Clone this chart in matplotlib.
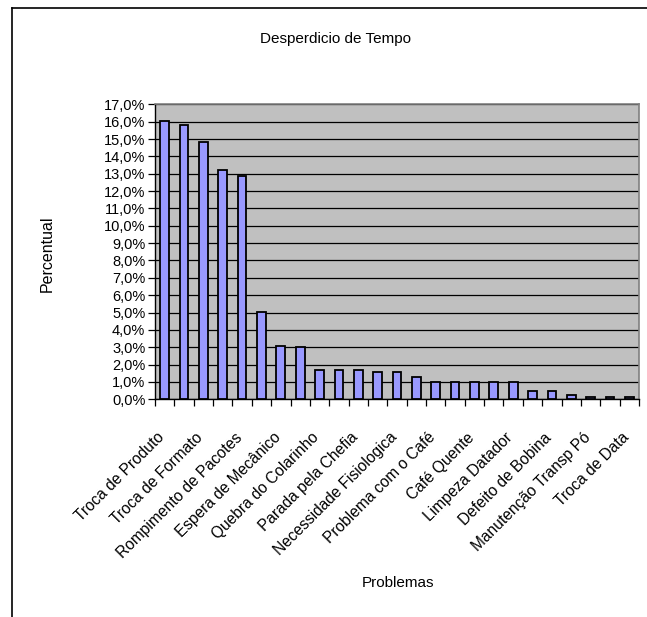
import matplotlib
matplotlib.use("Agg")
import matplotlib.pyplot as plt
import matplotlib.transforms as mtransforms
from matplotlib.lines import Line2D
from matplotlib.ticker import FuncFormatter, MultipleLocator
import numpy as np

plt.rcParams['font.family'] = ['Liberation Sans', 'DejaVu Sans']

title = "Desperdicio de Tempo"
x_label = "Problemas"
y_label = "Percentual"

# 25 problem categories; only every other one carries a visible label
values = [16.05, 15.8, 14.8, 13.2, 12.85, 5.02, 3.1, 3.0, 1.7, 1.7, 1.7,
          1.57, 1.57, 1.3, 1.02, 1.02, 1.02, 1.02, 1.02, 0.5, 0.5, 0.27,
          0.12, 0.12, 0.12]
tick_labels = ["Troca de Produto", "Troca de Formato", "Rompimento de Pacotes",
               "Espera de Mecânico", "Quebra do Colarinho", "Parada pela Chefia",
               "Necessidade Fisiologica", "Problema com o Café", "Café Quente",
               "Limpeza Datador", "Defeito de Bobina", "Manutenção Transp Pó",
               "Troca de Data"]

fig = plt.figure(figsize=(6.47, 6.17), dpi=100)
ax = fig.add_axes([155/647, 1-399.3/617, (639-155)/647, (399.3-104.3)/617])

n = len(values)
x = np.arange(n)
ax.set_facecolor('#C0C0C0')
ax.bar(x, values, width=0.45, color='#9999FF', edgecolor='black', linewidth=1.3, zorder=3)

ax.set_xlim(-0.5, n - 0.5)
ax.set_ylim(0, 17)
ax.yaxis.set_major_locator(MultipleLocator(1))
ax.yaxis.set_major_formatter(FuncFormatter(lambda v, p: f"{v:.1f}%".replace('.', ',')))
ax.grid(axis='y', color='black', linewidth=0.9, zorder=1)
ax.set_axisbelow(True)

# minor ticks between categories, labels on every other category
ax.set_xticks(np.arange(-0.5, n, 1), minor=True)
ax.set_xticks(x[::2])
ax.set_xticklabels(tick_labels, rotation=45, ha='right', va='top',
                   rotation_mode='anchor', fontsize=11.2)
ax.tick_params(axis='x', which='major', length=0, pad=22)
ax.tick_params(axis='x', which='minor', length=5, width=0.9, color='black', direction='out')
ax.tick_params(axis='y', length=5, width=0.9, labelsize=10.5, pad=2, direction='out')
shift = mtransforms.ScaledTranslation(-8/100, 0, fig.dpi_scale_trans)
for lbl in ax.get_xticklabels():
    lbl.set_transform(lbl.get_transform() + shift)

for s in ['top', 'right']:
    ax.spines[s].set_color('#808080')
    ax.spines[s].set_linewidth(1.2)
for s in ['left', 'bottom']:
    ax.spines[s].set_color('black')
    ax.spines[s].set_linewidth(1.0)

fig.text(335/647, 1-39/617, title, ha='center', va='center', fontsize=11)
fig.text(398/647, 1-583/617, x_label, ha='center', va='center', fontsize=11)
fig.text(47/647, 1-254/617, y_label, ha='center', va='center', rotation=90, fontsize=11.5)

# outer chart frame (cropped at right and bottom)
fig.add_artist(Line2D([11.5/647, 11.5/647], [0, 1-8.3/617], transform=fig.transFigure,
                      color='black', linewidth=1.2))
fig.add_artist(Line2D([11.5/647, 1], [1-8.3/617, 1-8.3/617], transform=fig.transFigure,
                      color='black', linewidth=1.2))

fig.savefig("out.png", dpi=100)
